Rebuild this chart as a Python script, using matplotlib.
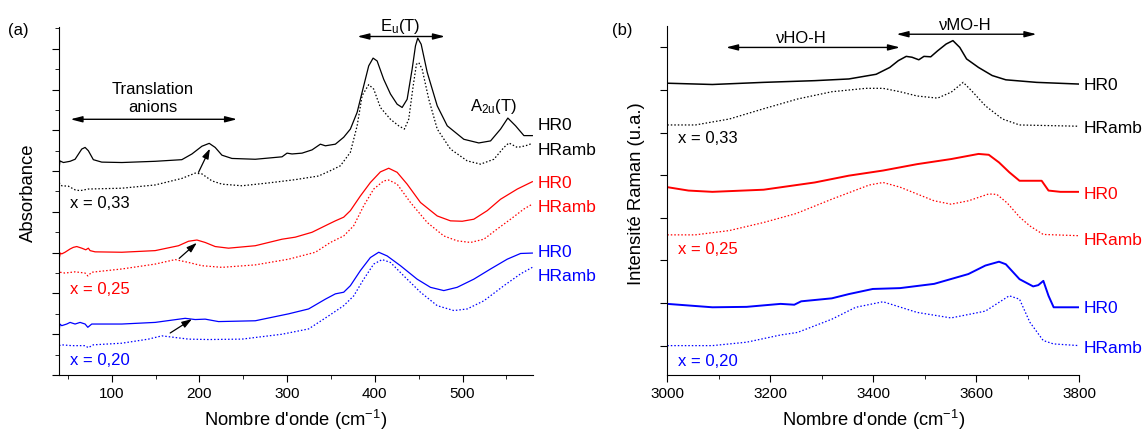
import numpy as np
import matplotlib
matplotlib.use("Agg")
import matplotlib.pyplot as plt

plt.rcParams['font.family'] = ['Liberation Sans', 'DejaVu Sans']
plt.rcParams['mathtext.fontset'] = 'custom'
plt.rcParams['mathtext.rm'] = 'Liberation Sans'
plt.rcParams['mathtext.it'] = 'Liberation Sans:italic'

# ---- (a) IR absorbance, x = 0,33 (black)
ir_x_hr0_033 = [40, 41, 45, 52.6, 58.3, 65.9, 69.7, 73.4, 79.1, 88.7, 111.6, 149.6, 180, 191.5, 202.9,
                211.2, 218, 225.7, 237.1, 263.7, 294.2, 299.9, 305.6, 317, 328.4, 337.9, 343.6, 355,
                364.5, 372.1, 379.8, 387.3, 393, 398, 402.6, 410.1, 417.8, 425.4, 431.1, 436.8, 442.5,
                446.3, 448.9, 452.8, 459.7, 471.1, 482.5, 501.4, 518.5, 531.9, 543.3, 551.6, 560.4,
                569.9, 579.5]
ir_y_hr0_033 = [5.05, 5.25, 5.21, 5.24, 5.29, 5.54, 5.58, 5.50, 5.28, 5.22, 5.21, 5.24, 5.28, 5.42, 5.61,
                5.68, 5.58, 5.39, 5.31, 5.29, 5.35, 5.44, 5.42, 5.44, 5.52, 5.66, 5.62, 5.66,
                5.83, 6.03, 6.44, 7.09, 7.58, 7.77, 7.70, 7.25, 6.89, 6.64, 6.56, 6.76, 7.50,
                8.07, 8.26, 8.11, 7.42, 6.60, 6.11, 5.78, 5.69, 5.74, 6.03, 6.30, 6.11,
                5.87, 5.87]
ir_x_amb_033 = [40, 43.1, 50.6, 58.3, 64, 73.4, 111.6, 149.6, 180, 195.2, 202.9, 214.3, 225.7, 248.5,
                278.9, 309.3, 335.9, 349.3, 360.7, 372.1, 379.8, 385.5, 393, 398.7, 406.3, 417.8,
                427.2, 433.7, 438.6, 443.7, 447.4, 450.1, 453.9, 461.5, 471.1, 486.2, 505.3, 520.5,
                535.7, 547.1, 552.8, 562.4, 571.8, 579.5]
ir_y_amb_033 = [4.72, 4.64, 4.63, 4.54, 4.52, 4.56, 4.58, 4.66, 4.82, 4.95, 4.93, 4.76, 4.68, 4.64,
                4.71, 4.79, 4.88, 5.01, 5.13, 5.46, 6.11, 6.85, 7.12, 7.01, 6.56, 6.27,
                6.11, 6.03, 6.27, 7.09, 7.62, 7.66, 7.50, 6.76, 6.03, 5.54, 5.25, 5.17,
                5.29, 5.58, 5.69, 5.58, 5.62, 5.68]

# ---- (a) x = 0,25 (red)
ir_x_hr0_025 = [40, 41.5, 43.1, 46.8, 52.6, 56.3, 60.2, 65.9, 70.5, 73.4, 75.4, 81.1, 111.6, 149.6, 176.2,
                187.6, 197.2, 206.6, 218, 233.2, 263.7, 294.2, 309.3, 328.4, 347.3, 355, 364.5, 372.1,
                383.5, 394.9, 406.3, 415.8, 425.4, 436.8, 452, 471.1, 486.2, 499.6, 512.8, 528.1,
                543.3, 562.4, 579.5]
ir_y_hr0_025 = [2.84, 2.99, 2.97, 3.01, 3.09, 3.13, 3.15, 3.11, 3.07, 3.11, 3.05, 3.02, 3.01, 3.05, 3.17,
                3.28, 3.31, 3.25, 3.15, 3.11, 3.17, 3.33, 3.38, 3.50, 3.70, 3.78, 3.87, 4.03,
                4.39, 4.72, 4.98, 5.07, 4.97, 4.68, 4.23, 3.90, 3.78, 3.77, 3.82, 4.03,
                4.31, 4.56, 4.74]
ir_x_amb_025 = [40, 41.1, 46.8, 58.3, 69.7, 72.8, 77.3, 111.6, 149.6, 172.4, 187.6, 202.9, 225.7, 263.7,
                301.7, 332.2, 349.3, 364.5, 375.9, 387.3, 398.7, 410.1, 415.8, 425.4, 440.6, 459.7,
                478.6, 493.8, 509.1, 524.3, 539.5, 554.7, 569.9, 579.5]
ir_y_amb_025 = [2.60, 2.52, 2.50, 2.53, 2.50, 2.43, 2.52, 2.60, 2.72, 2.83, 2.76, 2.68, 2.64, 2.70,
                2.84, 3.01, 3.25, 3.41, 3.66, 4.15, 4.56, 4.76, 4.78, 4.68, 4.23, 3.74,
                3.41, 3.29, 3.25, 3.33, 3.58, 3.82, 4.07, 4.19]

# ---- (a) x = 0,20 (blue)
ir_x_hr0_020 = [40, 41, 43.1, 48.8, 52.6, 58.3, 64, 69.7, 72.8, 77.3, 111.6, 149.6, 183.8, 195.2, 206.6,
                221.8, 263.7, 301.7, 324.5, 343.6, 355, 364.5, 372.1, 383.5, 394.9, 404.4, 414,
                429.2, 448.2, 463.4, 478.6, 493.8, 512.8, 531.9, 550.9, 566.1, 579.5]
ir_y_hr0_020 = [1.05, 1.25, 1.21, 1.25, 1.29, 1.25, 1.29, 1.25, 1.17, 1.25, 1.25, 1.29, 1.39, 1.36, 1.37,
                1.31, 1.33, 1.50, 1.62, 1.86, 1.99, 2.03, 2.19, 2.56, 2.88, 3.01, 2.92,
                2.68, 2.35, 2.15, 2.07, 2.15, 2.35, 2.60, 2.84, 2.98, 2.99]
ir_x_amb_020 = [40, 43.1, 54.5, 69.7, 73.4, 79.1, 111.6, 141.9, 157.2, 172.4, 187.6, 210.4, 248.5, 294.2,
                324.5, 347.3, 364.5, 375.9, 387.3, 398.7, 408.3, 417.8, 433, 452, 471.1, 490.1,
                505.3, 524.3, 547.1, 566.1, 579.5]
ir_y_amb_020 = [0.72, 0.74, 0.72, 0.72, 0.67, 0.74, 0.78, 0.88, 0.96, 0.92, 0.88, 0.87, 0.88, 1.00,
                1.13, 1.45, 1.70, 1.94, 2.35, 2.72, 2.83, 2.76, 2.43, 2.03, 1.70, 1.58,
                1.62, 1.82, 2.19, 2.48, 2.64]

# ---- (b) Raman, x = 0,33 (black)
ra_x_hr0_033 = [3000, 3087.5, 3187, 3286.3, 3352.6, 3405.6, 3432, 3448.7, 3464, 3475.2, 3488.4, 3498.4,
                3511.6, 3524.9, 3541.5, 3554.7, 3568, 3581.2, 3604.4, 3631, 3657.4, 3717.1, 3800]
ra_y_hr0_033 = [6.16, 6.13, 6.18, 6.22, 6.26, 6.37, 6.53, 6.69, 6.79, 6.77, 6.71, 6.79,
                6.78, 6.92, 7.08, 7.16, 7.00, 6.73, 6.53, 6.34, 6.24, 6.18, 6.14]
ra_x_amb_033 = [3000, 3054.4, 3120.6, 3187, 3253.2, 3319.5, 3385.7, 3418.9, 3452, 3485.1, 3524.9,
                3551.4, 3574.6, 3591.2, 3617.7, 3650.8, 3684, 3800]
ra_y_amb_033 = [5.18, 5.18, 5.32, 5.56, 5.79, 5.96, 6.04, 6.04, 5.96, 5.86, 5.81,
                5.95, 6.18, 5.98, 5.63, 5.32, 5.18, 5.15]

# ---- (b) x = 0,25 (red)
ra_x_hr0_025 = [3000, 3041.1, 3087.5, 3187, 3286.3, 3352.6, 3418.9, 3485.1, 3551.4, 3604.4, 3624.3,
                3644.2, 3664.1, 3684, 3710.5, 3727, 3740.3, 3763.4, 3800]
ra_y_hr0_025 = [3.72, 3.64, 3.61, 3.66, 3.83, 3.99, 4.11, 4.26, 4.38, 4.50, 4.48,
                4.30, 4.07, 3.87, 3.87, 3.87, 3.64, 3.61, 3.61]
ra_x_amb_025 = [3000, 3054, 3120, 3187, 3250, 3320, 3392, 3419, 3452, 3518, 3551, 3585, 3624, 3640,
                3660, 3684, 3704, 3730, 3800]
ra_y_amb_025 = [2.60, 2.60, 2.70, 2.89, 3.10, 3.44, 3.77, 3.83, 3.72, 3.40, 3.32, 3.40, 3.56, 3.55,
                3.35, 3.02, 2.81, 2.61, 2.58]

# ---- (b) x = 0,20 (blue)
ra_x_hr0_020 = [3000, 3087.5, 3154, 3220, 3246.6, 3260, 3319.5, 3352.6, 3399, 3452, 3518.3, 3584.6,
                3617.7, 3644.2, 3657.4, 3684, 3710.5, 3720.4, 3730.3, 3740.3, 3750.3, 3800]
ra_y_hr0_020 = [0.98, 0.90, 0.91, 0.98, 0.96, 1.04, 1.11, 1.21, 1.33, 1.35, 1.45, 1.68,
                1.88, 1.97, 1.91, 1.56, 1.39, 1.42, 1.52, 1.17, 0.90, 0.90]
ra_x_amb_020 = [3000, 3087.5, 3154, 3220, 3253, 3319.5, 3366, 3419, 3485, 3551, 3617.7, 3664, 3684,
                3704, 3730, 3750, 3800]
ra_y_amb_020 = [0.0, 0.0, 0.08, 0.25, 0.31, 0.62, 0.90, 1.03, 0.78, 0.65, 0.81, 1.17, 1.09,
                0.55, 0.12, 0.04, 0.0]

series_colors = ['black', '#ff0000', '#0000ff']
series_names = ['x = 0,33', 'x = 0,25', 'x = 0,20']
curve_names = ['HR0', 'HRamb']
dots = (0, (1.2, 1.6))

fig = plt.figure(figsize=(11.44, 4.35), dpi=100)
axa = fig.add_axes([0.0516, 0.1356, 0.4141, 0.8007])
axb = fig.add_axes([0.5833, 0.1356, 0.3601, 0.8030])

for ax in (axa, axb):
    ax.spines['top'].set_visible(False)
    ax.spines['right'].set_visible(False)
    ax.tick_params(labelleft=False, labelsize=11, direction='out', width=0.8, pad=3)
    ax.tick_params(which='major', length=5)
    ax.tick_params(which='minor', length=3)

# ---------- panel (a)
ir_curves = [(ir_x_hr0_033, ir_y_hr0_033, ir_x_amb_033, ir_y_amb_033),
             (ir_x_hr0_025, ir_y_hr0_025, ir_x_amb_025, ir_y_amb_025),
             (ir_x_hr0_020, ir_y_hr0_020, ir_x_amb_020, ir_y_amb_020)]
for (xs, ys, xd, yd), c in zip(ir_curves, series_colors):
    axa.plot(xs, ys, '-', color=c, lw=0.9)
    axa.plot(xd, yd, linestyle=dots, color=c, lw=0.9)

axa.set_xlim(40, 580)
axa.set_ylim(0, 8.54)
axa.set_xticks([100, 200, 300, 400, 500])
axa.set_xticks(np.arange(50, 580, 50), minor=True)
axa.set_yticks(np.arange(0, 9, 1))
axa.set_yticks(np.arange(0.5, 8.6, 1), minor=True)
axa.set_xlabel("Nombre d'onde (cm$^{-1}$)", fontsize=13.2, labelpad=5)

ir_lab_y = [(6.14, 5.54), (4.72, 4.13), (3.03, 2.43)]
ir_x_y = [4.22, 2.11, 0.39]
for (y1, y2), yx, c, name in zip(ir_lab_y, ir_x_y, series_colors, series_names):
    axa.text(585.5, y1, curve_names[0], color=c, fontsize=12.5, va='center', ha='left', clip_on=False)
    axa.text(585.5, y2, curve_names[1], color=c, fontsize=12.5, va='center', ha='left', clip_on=False)
    axa.text(52.6, yx, name, color=c, fontsize=12, va='center', ha='left')

axa.text(147, 6.80, 'Translation\nanions', fontsize=12, ha='center', va='center', linespacing=1.25)
axa.annotate('', xy=(53, 6.27), xytext=(243, 6.27),
             arrowprops=dict(arrowstyle='<|-|>,head_length=0.7,head_width=0.18', color='black', lw=1,
                             shrinkA=0, shrinkB=0))
axa.text(429, 8.58, 'E$_{\\mathrm{u}}$(T)', fontsize=12, ha='center', va='center', clip_on=False)
axa.annotate('', xy=(380, 8.30), xytext=(480, 8.30), annotation_clip=False,
             arrowprops=dict(arrowstyle='<|-|>,head_length=0.7,head_width=0.18', color='black', lw=1,
                             shrinkA=0, shrinkB=0))
axa.text(535, 6.62, 'A$_{\\mathrm{2u}}$(T)', fontsize=12, ha='center', va='center')

# small arrows pointing at the ~200 cm-1 band
small_arrows = [((199, 4.97), (212, 5.55)), ((177, 2.86), (197, 3.24)), ((166.7, 1.03), (191.5, 1.37))]
for tail, tip in small_arrows:
    axa.annotate('', xy=tip, xytext=tail,
                 arrowprops=dict(arrowstyle='-|>,head_length=0.6,head_width=0.2', color='black', lw=0.9,
                                 shrinkA=0, shrinkB=0))

# ---------- panel (b)
ra_curves = [(ra_x_hr0_033, ra_y_hr0_033, ra_x_amb_033, ra_y_amb_033),
             (ra_x_hr0_025, ra_y_hr0_025, ra_x_amb_025, ra_y_amb_025),
             (ra_x_hr0_020, ra_y_hr0_020, ra_x_amb_020, ra_y_amb_020)]
for (xs, ys, xd, yd), c, w in zip(ra_curves, series_colors, [1.1, 1.4, 1.4]):
    axb.plot(xs, ys, '-', color=c, lw=w)
    axb.plot(xd, yd, linestyle=dots, color=c, lw=0.9)

axb.set_xlim(3000, 3800)
axb.set_ylim(-0.69, 7.51)
axb.set_xticks([3000, 3200, 3400, 3600, 3800])
axb.set_xticks(np.arange(3100, 3800, 200), minor=True)
axb.set_yticks(np.arange(0, 8, 1))
axb.set_xlabel("Nombre d'onde (cm$^{-1}$)", fontsize=13.2, labelpad=5)

ra_lab_y = [(6.12, 5.12), (3.56, 2.50), (0.90, -0.04)]
ra_x_y = [4.89, 2.27, -0.35]
for (y1, y2), yx, c, name in zip(ra_lab_y, ra_x_y, series_colors, series_names):
    axb.text(3809, y1, curve_names[0], color=c, fontsize=12.5, va='center', ha='left', clip_on=False)
    axb.text(3809, y2, curve_names[1], color=c, fontsize=12.5, va='center', ha='left', clip_on=False)
    axb.text(3021, yx, name, color=c, fontsize=12, va='center', ha='left')

axb.text(3260, 7.24, '\u03bdHO-H', fontsize=12, ha='center', va='center')
axb.annotate('', xy=(3114, 7.00), xytext=(3452, 7.00),
             arrowprops=dict(arrowstyle='<|-|>,head_length=0.7,head_width=0.18', color='black', lw=1,
                             shrinkA=0, shrinkB=0))
axb.text(3578, 7.55, '\u03bdMO-H', fontsize=12, ha='center', va='center', clip_on=False)
axb.annotate('', xy=(3445, 7.31), xytext=(3717, 7.31), annotation_clip=False,
             arrowprops=dict(arrowstyle='<|-|>,head_length=0.7,head_width=0.18', color='black', lw=1,
                             shrinkA=0, shrinkB=0))

fig.text(28 / 1144, 1 - 193 / 435, 'Absorbance', rotation=90, fontsize=13.3, ha='center', va='center')
fig.text(637 / 1144, 1 - 194 / 435, 'Intensit\u00e9 Raman (u.a.)', rotation=90, fontsize=13.3,
         ha='center', va='center')
fig.text(18 / 1144, 1 - 30 / 435, '(a)', fontsize=12, ha='center', va='center')
fig.text(622 / 1144, 1 - 30 / 435, '(b)', fontsize=12, ha='center', va='center')

fig.savefig('out.png', dpi=100)
